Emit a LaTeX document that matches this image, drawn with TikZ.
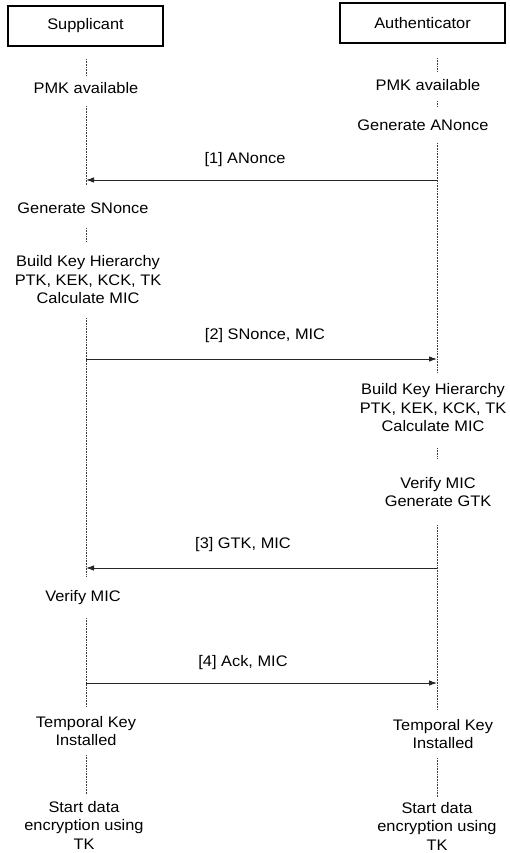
\documentclass[tikz,border=0pt]{standalone}
\usepackage{fontspec}
\setmainfont[FakeStretch=1.07]{Liberation Sans}
\usetikzlibrary{arrows.meta}
\tikzset{
  actor/.style={draw=black, line width=1.8pt, fill=white, minimum height=40pt, inner sep=0pt, font=\fontsize{15.3}{18.5}\selectfont},
  note/.style={align=center, inner sep=0pt, font=\fontsize{15.3}{18.5}\selectfont},
  lab/.style={inner sep=0pt, font=\fontsize{15.3}{18.5}\selectfont},
  life/.style={draw=black!75, densely dotted, line width=0.6pt},
  msg/.style={draw=black!85, line width=0.9pt, -{Latex[length=8pt,width=5.5pt]}}
}
\begin{document}
\begin{tikzpicture}[x=1pt,y=-1pt]
\useasboundingbox (0,0) rectangle (510,853);
% actors
\node[actor, minimum width=155pt] (sup) at (85.5,26) {Supplicant};
\node[actor, minimum width=165pt] (aut) at (422.5,23) {Authenticator};
% lifeline coordinates
\foreach \n/\x/\y in {a1/86/59, a2/86/76, a3/86/106, a4/86/185, a5/86/228, a6/86/242, a7/86/318, a8/86/577, a9/86/618, a10/86/707, a11/86/755, a12/86/795,
  b1/437/58, b2/437/71, b3/437/101, b4/437/106, b5/437/143, b6/437/373, b7/437/448, b8/437/459, b9/437/525, b10/437/710, b11/437/758, b12/437/797}
  \coordinate (\n) at (\x,\y);
\foreach \s/\e in {a1/a2, a3/a4, a5/a6, a7/a8, a9/a10, a11/a12, b1/b2, b3/b4, b5/b6, b7/b8, b9/b10, b11/b12}
  \draw[life] (\s) -- (\e);
% left notes
\node[note] (lpmk) at (86,88) {PMK available};
\node[note] (lsn) at (83,208) {Generate SNonce};
\node[note] (lbk) at (88,280) {Build Key Hierarchy\\PTK, KEK, KCK, TK\\Calculate MIC};
\node[note] (lvm) at (83,598) {Verify MIC};
\node[note] (ltk) at (86,731) {Temporal Key\\Installed};
\node[note] (lsd) at (84,825) {Start data\\encryption using\\TK};
% right notes
\node[note] (rpmk) at (428,85) {PMK available};
\node[note] (ran) at (423,125) {Generate ANonce};
\node[note] (rbk) at (433,408) {Build Key Hierarchy\\PTK, KEK, KCK, TK\\Calculate MIC};
\node[note] (rvm) at (438,492) {Verify MIC\\Generate GTK};
\node[note] (rtk) at (443,734) {Temporal Key\\Installed};
\node[note] (rsd) at (437,826) {Start data\\encryption using\\TK};
% messages
\coordinate (m1s) at (437,180); \coordinate (m1e) at (86,180);
\coordinate (m2s) at (86,359);  \coordinate (m2e) at (437,359);
\coordinate (m3s) at (437,568); \coordinate (m3e) at (86,568);
\coordinate (m4s) at (86,683);  \coordinate (m4e) at (437,683);
\draw[msg] (m1s) -- (m1e);
\draw[msg] (m2s) -- (m2e);
\draw[msg] (m3s) -- (m3e);
\draw[msg] (m4s) -- (m4e);
\node[lab] (l1) at (245,160) {[1] ANonce};
\node[lab] (l2) at (265,336) {[2] SNonce, MIC};
\node[lab] (l3) at (243,545) {[3] GTK, MIC};
\node[lab] (l4) at (243,663) {[4] Ack, MIC};
\end{tikzpicture}
\end{document}
